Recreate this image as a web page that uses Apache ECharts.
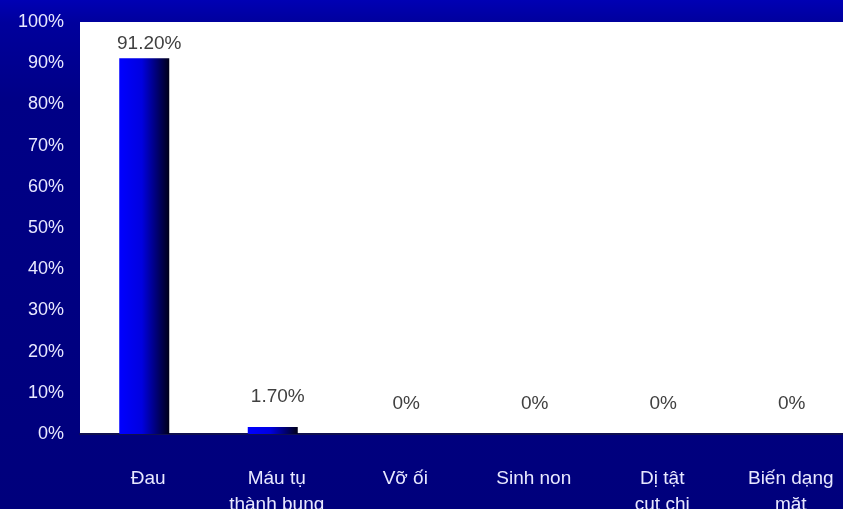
<!DOCTYPE html>
<html><head><meta charset="utf-8">
<script src="https://cdn.jsdelivr.net/npm/echarts@6/dist/echarts.min.js"></script>
<style>html,body{margin:0;padding:0;background:#000080;overflow:hidden;}#c{width:843px;height:509px;}</style>
</head><body><div id="c"></div>
<script>
var categories = ['Đau', 'Máu tụ\nthành bụng', 'Vỡ ối', 'Sinh non', 'Dị tật\ncụt chi', 'Biến dạng\nmặt'];
var values = [91.2, 1.7, 0, 0, 0, 0];
var valueLabels = ['91.20%', '1.70%', '0%', '0%', '0%', '0%'];
var labelDistances = [5, 21, 21, 21, 21, 21];
var yTicks = [0, 10, 20, 30, 40, 50, 60, 70, 80, 90, 100];

var chart = echarts.init(document.getElementById('c'));
var font = 'Liberation Sans, Arial, sans-serif';
chart.setOption({
  backgroundColor: new echarts.graphic.LinearGradient(0, 0, 0, 1, [
    {offset: 0, color: '#0000b4'},
    {offset: 0.045, color: '#00009c'},
    {offset: 0.2, color: '#000086'},
    {offset: 1, color: '#00007c'}
  ]),
  animation: false,
  grid: {left: 80, top: 22, width: 771, height: 412, outerBoundsMode: 'none', containLabel: false,
         show: true, backgroundColor: '#ffffff', borderWidth: 0},
  xAxis: {
    type: 'category', data: categories,
    axisLine: {show: true, lineStyle: {color: '#101050', width: 2}},
    axisTick: {show: false},
    axisLabel: {color: '#e8e8ff', fontSize: 19, fontFamily: font, margin: 32, lineHeight: 26, padding: [0, 0, 0, 8]}
  },
  yAxis: {
    type: 'value', min: yTicks[0], max: yTicks[yTicks.length - 1], interval: 10,
    axisLine: {show: false}, axisTick: {show: false}, splitLine: {show: false},
    axisLabel: {color: '#e8e8ff', fontSize: 18, fontFamily: font, margin: 16, formatter: '{value}%'}
  },
  series: [{
    type: 'bar', barWidth: 50,
    data: values.map(function (v, i) {
      return {value: v, label: {distance: labelDistances[i]}};
    }),
    itemStyle: {
      color: new echarts.graphic.LinearGradient(0, 0, 1, 0, [
        {offset: 0, color: '#0000ff'},
        {offset: 0.45, color: '#0000e0'},
        {offset: 1, color: '#000018'}
      ])
    },
    label: {
      show: true, position: 'top', color: '#404040', fontSize: 19, fontFamily: font, offset: [5, 0],
      formatter: function (p) { return valueLabels[p.dataIndex]; }
    }
  }]
});
</script></body></html>
